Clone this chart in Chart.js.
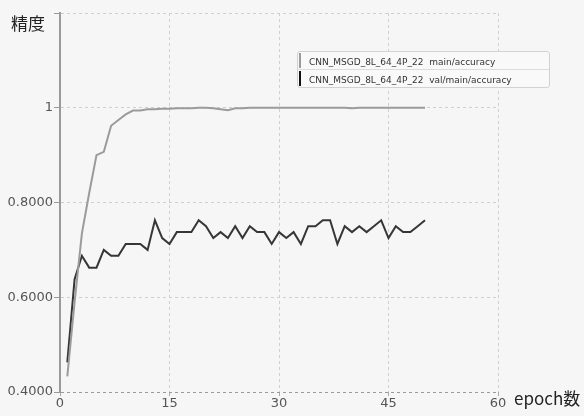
<!DOCTYPE html>
<html>
<head>
<meta charset="utf-8">
<script src="https://cdn.jsdelivr.net/npm/chart.js@4/dist/chart.umd.min.js"></script>
<style>
  html, body { margin: 0; padding: 0; background: #f6f6f6; }
  #wrap { position: relative; width: 584px; height: 416px; }
  canvas { display: block; }
  #legend {
    position: absolute; left: 297px; top: 51px; width: 251px;
    border: 1px solid #d2d2d2; border-radius: 3px; background: #f9f9f9;
    font-family: "DejaVu Sans", sans-serif; font-size: 9px; color: #333;
  }
  #legend .row { position: relative; height: 17px; line-height: 21px; padding-left: 11px; white-space: pre; overflow: visible; }
  #legend .row + .row { border-top: 1px solid #dcdcdc; }
  #legend .bar { position: absolute; left: 1px; top: 1px; bottom: 1px; width: 2px; }
</style>
</head>
<body>
<div id="wrap">
  <canvas id="c" width="584" height="416"></canvas>
  <div id="legend"></div>
</div>
<script>
// ---- data ----
const epochs = [1,2,3,4,5,6,7,8,9,10,11,12,13,14,15,16,17,18,19,20,21,22,23,24,25,26,27,28,29,30,31,32,33,34,35,36,37,38,39,40,41,42,43,44,45,46,47,48,49,50];
const mainAccuracy = [0.433,0.59,0.735,0.82,0.90,0.907,0.962,0.974,0.986,0.994,0.994,0.997,0.997,0.998,0.998,0.999,0.999,0.999,1.0,1.0,0.999,0.997,0.995,0.999,0.999,1.0,1.0,1.0,1.0,1.0,1.0,1.0,1.0,1.0,1.0,1.0,1.0,1.0,1.0,0.999,1.0,1.0,1.0,1.0,1.0,1.0,1.0,1.0,1.0,1.0];
const valAccuracy = [0.4625,0.638,0.6875,0.6625,0.6625,0.70,0.6875,0.6875,0.7125,0.7125,0.7125,0.70,0.7625,0.725,0.7125,0.7375,0.7375,0.7375,0.7625,0.75,0.725,0.7375,0.725,0.75,0.725,0.75,0.7375,0.7375,0.7125,0.7375,0.725,0.7375,0.7125,0.75,0.75,0.7625,0.7625,0.7125,0.75,0.7375,0.75,0.7375,0.75,0.7625,0.725,0.75,0.7375,0.7375,0.75,0.7625];
const seriesNames = ["CNN_MSGD_8L_64_4P_22  main/accuracy", "CNN_MSGD_8L_64_4P_22  val/main/accuracy"];
const xTickValues = [0,15,30,45,60];
const yTickValues = [0.4,0.6,0.8,1.0,1.2];
const yTickLabels = ["0.4000","0.6000","0.8000","1",""];
const yTitle = "精度";
const xTitle = "epoch数";

// ---- style ----
const colors = ["#9b9b9b", "#363636"];
const legendBars = ["#9b9b9b", "#111111"];

// legend (HTML)
const lg = document.getElementById('legend');
seriesNames.forEach((n, i) => {
  const r = document.createElement('div'); r.className = 'row'; r.textContent = n;
  const b = document.createElement('span'); b.className = 'bar'; b.style.background = legendBars[i];
  r.appendChild(b); lg.appendChild(r);
});

const titles = {
  id: 'titles',
  afterDraw(chart) {
    const ctx = chart.ctx, a = chart.chartArea;
    ctx.save();
    ctx.fillStyle = '#222';
    ctx.font = '17px "Noto Sans CJK JP", sans-serif';
    ctx.textBaseline = 'middle';
    ctx.textAlign = 'left';
    ctx.fillText(yTitle, 11, 24);
    ctx.fillText(xTitle, a.right + 16, a.bottom + 7);
    ctx.restore();
  }
};

const gridColor = '#cfcfcf';
new Chart(document.getElementById('c'), {
  type: 'line',
  data: {
    datasets: [
      { label: seriesNames[0], data: epochs.map((e, i) => ({x: e, y: mainAccuracy[i]})),
        borderColor: colors[0], borderWidth: 2, pointRadius: 0, tension: 0, fill: false },
      { label: seriesNames[1], data: epochs.map((e, i) => ({x: e, y: valAccuracy[i]})),
        borderColor: colors[1], borderWidth: 2, pointRadius: 0, tension: 0, fill: false }
    ]
  },
  options: {
    responsive: false, animation: false,
    layout: { padding: { top: 13, right: 86, left: 0, bottom: 0 } },
    plugins: { legend: { display: false }, tooltip: { enabled: false } },
    scales: {
      x: {
        type: 'linear', min: 0, max: 60,
        afterBuildTicks: s => { s.ticks = xTickValues.map(v => ({value: v})); },
        afterFit: s => { s.height = 24; },
        ticks: { color: '#555', font: { family: 'DejaVu Sans', size: 13 }, padding: 0, maxRotation: 0 },
        grid: { color: ctx => ctx.tick && ctx.tick.value === 0 ? 'rgba(0,0,0,0)' : gridColor, lineWidth: 1, tickLength: 4, tickColor: '#aaa', tickBorderDash: [] },
        border: { display: false, dash: [3, 3] }
      },
      y: {
        min: 0.4, max: 1.2,
        afterBuildTicks: s => { s.ticks = yTickValues.map(v => ({value: v})); },
        afterFit: s => { s.width = 60; },
        ticks: { color: '#555', font: { family: 'DejaVu Sans', size: 13 }, padding: 1,
          callback: (v) => { const k = yTickValues.findIndex(t => Math.abs(t - v) < 1e-6); return k >= 0 ? yTickLabels[k] : ''; } },
        grid: { color: ctx => ctx.tick && Math.abs(ctx.tick.value - 0.4) < 1e-6 ? '#999' : gridColor, lineWidth: 1, tickLength: 6, tickColor: '#999', tickBorderDash: [] },
        border: { display: true, color: '#9a9a9a', width: 2, dash: [3, 3] }
      }
    }
  },
  plugins: [titles]
});
</script>
</body>
</html>
